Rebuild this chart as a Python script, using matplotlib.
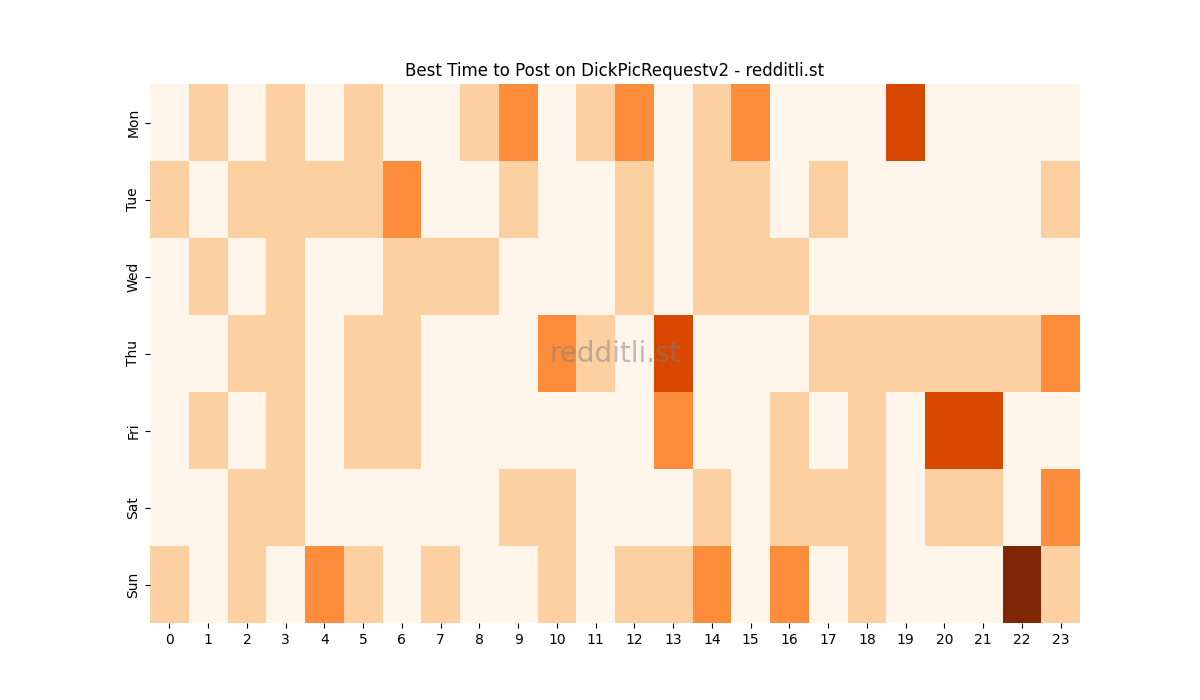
import numpy as np
import matplotlib
matplotlib.use("Agg")
import matplotlib.pyplot as plt
import seaborn as sns

days = ["Mon", "Tue", "Wed", "Thu", "Fri", "Sat", "Sun"]
hours = list(range(24))

mon = [0, 1, 0, 1, 0, 1, 0, 0, 1, 2, 0, 1, 2, 0, 1, 2, 0, 0, 0, 3, 0, 0, 0, 0]
tue = [1, 0, 1, 1, 1, 1, 2, 0, 0, 1, 0, 0, 1, 0, 1, 1, 0, 1, 0, 0, 0, 0, 0, 1]
wed = [0, 1, 0, 1, 0, 0, 1, 1, 1, 0, 0, 0, 1, 0, 1, 1, 1, 0, 0, 0, 0, 0, 0, 0]
thu = [0, 0, 1, 1, 0, 1, 1, 0, 0, 0, 2, 1, 0, 3, 0, 0, 0, 1, 1, 1, 1, 1, 1, 2]
fri = [0, 1, 0, 1, 0, 1, 1, 0, 0, 0, 0, 0, 0, 2, 0, 0, 1, 0, 1, 0, 3, 3, 0, 0]
sat = [0, 0, 1, 1, 0, 0, 0, 0, 0, 1, 1, 0, 0, 0, 1, 0, 1, 1, 1, 0, 1, 1, 0, 2]
sun = [1, 0, 1, 0, 2, 1, 0, 1, 0, 0, 1, 0, 1, 1, 2, 0, 2, 0, 1, 0, 0, 0, 4, 1]

data = np.array([mon, tue, wed, thu, fri, sat, sun])

fig, ax = plt.subplots(figsize=(12, 7), dpi=100)
sns.heatmap(data, cmap="Oranges", cbar=False, ax=ax,
            xticklabels=hours, yticklabels=days)
ax.set_title("Best Time to Post on DickPicRequestv2 - redditli.st")
ax.text(0.5, 0.5, "redditli.st", transform=ax.transAxes, fontsize=20,
        color="gray", alpha=0.5, ha="center", va="center")
plt.savefig("out.png")
